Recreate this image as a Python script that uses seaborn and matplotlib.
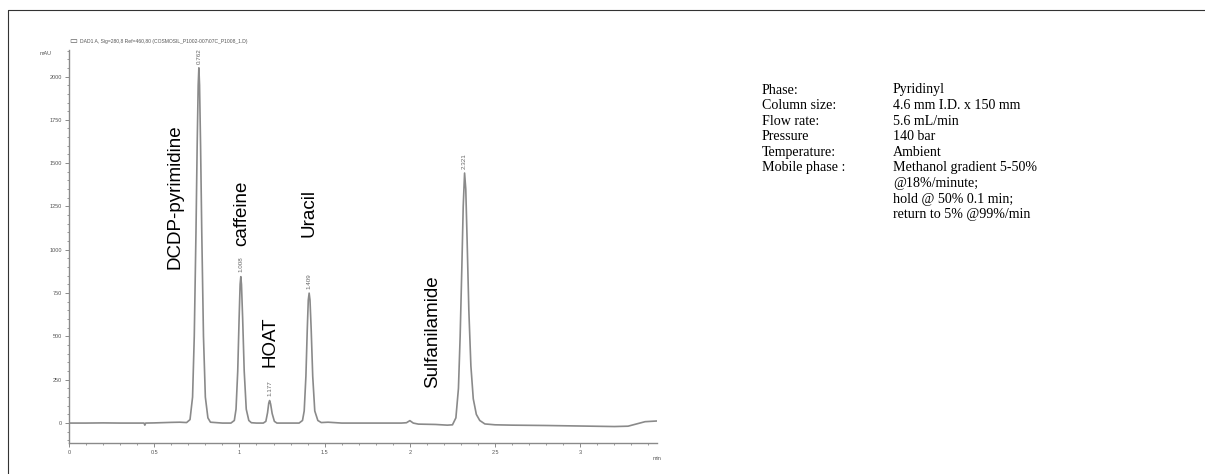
import numpy as np
import pandas as pd
import seaborn as sns
import matplotlib.pyplot as plt
from matplotlib.ticker import MultipleLocator
from matplotlib.lines import Line2D

# chromatogram trace (min, mAU)
time = [0.0, 0.1, 0.2, 0.3, 0.4, 0.44, 0.445, 0.45, 0.5, 0.6, 0.65, 0.69,
        0.71, 0.725, 0.735, 0.745, 0.752, 0.758, 0.762, 0.766, 0.772, 0.779,
        0.789, 0.80, 0.815, 0.83, 0.9, 0.95, 0.97, 0.98, 0.99, 0.998, 1.004,
        1.008, 1.012, 1.019, 1.028, 1.04, 1.055, 1.07, 1.1, 1.14, 1.155,
        1.165, 1.172, 1.177, 1.183, 1.192, 1.205, 1.22, 1.3, 1.35, 1.37,
        1.38, 1.39, 1.398, 1.404, 1.409, 1.414, 1.421, 1.43, 1.442, 1.46,
        1.48, 1.52, 1.6, 1.8, 1.95, 1.98, 2.0, 2.02, 2.05, 2.15, 2.22, 2.25,
        2.27, 2.285, 2.295, 2.305, 2.313, 2.321, 2.328, 2.336, 2.346, 2.358,
        2.372, 2.39, 2.41, 2.44, 2.5, 2.6, 2.8, 3.0, 3.2, 3.28, 3.33, 3.38,
        3.45]
mau = [0, 0, 1, 0, 0, 0, -12, 0, 1, 4, 5, 3,
       20, 150, 500, 1100, 1600, 1950, 2050, 1950, 1600, 1100,
       500, 150, 30, 5, 0, 0, 15, 80, 300, 600, 800,
       845, 800, 600, 300, 80, 15, 2, 0, 0, 10,
       60, 115, 130, 110, 55, 10, 0, 0, 0, 15,
       70, 270, 540, 710, 750, 710, 540, 270, 70, 15,
       3, 5, 0, 0, 0, 2, 14, 0, -6, -8, -12, -10,
       30, 200, 500, 900, 1250, 1443, 1350, 1050, 650, 330,
       140, 50, 15, -5, -10, -12, -14, -17, -20, -18, -5, 8,
       12]

# peak retention times and apex heights
peak_rt = [0.762, 1.008, 1.177, 1.409, 2.321]
peak_height = [2050, 845, 130, 750, 1443]

# compound names and where they sit (min, mAU)
compounds = ['DCDP-pyrimidine', 'caffeine', 'HOAT', 'Uracil', 'Sulfanilamide']
compound_x = [0.62, 1.015, 1.18, 1.41, 2.135]
compound_y = [1305, 1210, 468, 1215, 530]

# method conditions
cond_names = ['Phase:', 'Column size:', 'Flow rate:', 'Pressure', 'Temperature:',
              'Mobile phase :', '', '', '']
cond_values = ['Pyridinyl', '4.6 mm I.D. x 150 mm', '5.6 mL/min', '140 bar', 'Ambient',
               'Methanol gradient 5-50%', '@18%/minute;', 'hold @ 50% 0.1 min;',
               'return to 5% @99%/min']

df = pd.DataFrame({'time': time, 'mAU': mau})

sns.set_style("white")
plt.rcParams['font.family'] = ['Liberation Sans', 'DejaVu Sans']

fig = plt.figure(figsize=(12.05, 4.74), dpi=100)
ax = fig.add_axes([69 / 1205, 1 - 443 / 474, (657 - 69) / 1205, (443 - 50) / 474])

grey = '#8a8a8a'
sns.lineplot(data=df, x='time', y='mAU', ax=ax, color=grey, linewidth=1.2)

ax.set_xlim(0, 3.45)
ax.set_ylim(-115, 2153)
ax.set_xlabel('')
ax.set_ylabel('')
ax.xaxis.set_major_locator(MultipleLocator(0.5))
ax.xaxis.set_minor_locator(MultipleLocator(0.1))
ax.yaxis.set_major_locator(MultipleLocator(250))
ax.yaxis.set_minor_locator(MultipleLocator(50))
ax.set_xticks([0, 0.5, 1, 1.5, 2, 2.5, 3])
ax.set_xticklabels(['0', '0.5', '1', '1.5', '2', '2.5', '3'])
ax.tick_params(axis='both', which='major', direction='out', length=3, width=0.7,
               colors=grey, labelsize=4, labelcolor='#555555', pad=2)
ax.tick_params(axis='both', which='minor', direction='out', length=1.5, width=0.6,
               colors=grey)
ax.tick_params(bottom=True, left=True, which='both')
for s in ['top', 'right']:
    ax.spines[s].set_visible(False)
for s in ['left', 'bottom']:
    ax.spines[s].set_color(grey)
    ax.spines[s].set_linewidth(1.0)

ax.text(3.45, -190, 'min', fontsize=4, color='#555555', ha='center', va='top')
ax.text(-0.1, 2130, 'mAU', fontsize=4, color='#555555', ha='right', va='center')

# peak retention time labels
for rt, h in zip(peak_rt, peak_height):
    ax.text(rt, h + 25, f'{rt:.3f}', rotation=90, fontsize=4.5, color='#666666',
            ha='center', va='bottom')

# compound names
for name, cx, cy in zip(compounds, compound_x, compound_y):
    ax.text(cx, cy, name, rotation=90, fontsize=13.5, color='black',
            ha='center', va='center')

# signal header
fig.text(69 / 1205, 1 - 42 / 474, '\u25ad', fontsize=6, color='#555555',
         ha='left', va='center')
fig.text(80 / 1205, 1 - 42 / 474,
         'DAD1 A, Sig=280,8 Ref=460,80 (COSMOSIL_P1002-007\\07C_P1008_1.D)',
         fontsize=3.6, color='#555555', ha='left', va='center')

# conditions block
for i, (n, v) in enumerate(zip(cond_names, cond_values)):
    yy = 1 - (90 + i * 15.6) / 474
    fig.text(762 / 1205, yy, n, fontsize=10.1, family=['Liberation Serif'],
             ha='left', va='center', color='black')
    fig.text(893 / 1205, yy, v, fontsize=10.1, family=['Liberation Serif'],
             ha='left', va='center', color='black')

# outer frame (top and left edges)
fig.add_artist(Line2D([8 / 1205, 1.0], [1 - 10 / 474, 1 - 10 / 474],
                      transform=fig.transFigure, color='#333333', linewidth=0.8))
fig.add_artist(Line2D([8 / 1205, 8 / 1205], [1 - 10 / 474, 0.0],
                      transform=fig.transFigure, color='#333333', linewidth=0.8))

fig.savefig('out.png', dpi=100)
